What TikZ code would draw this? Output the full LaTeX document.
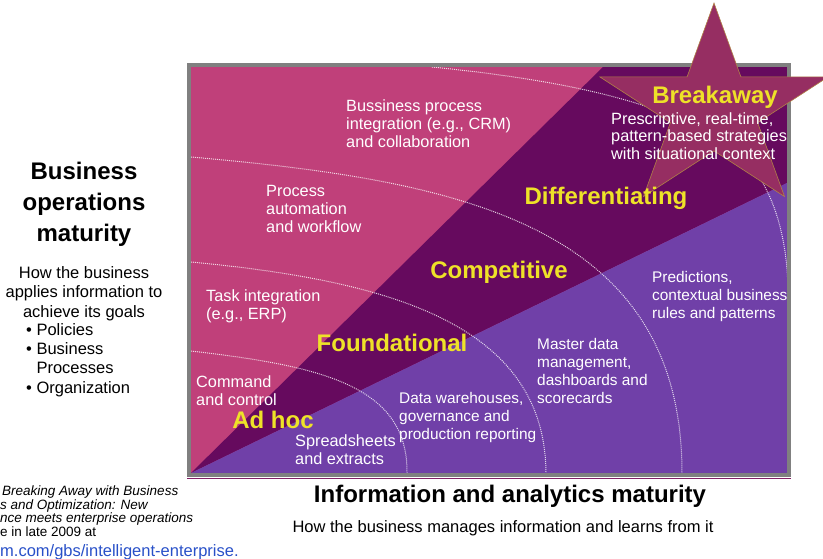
\documentclass[tikz,border=0pt]{standalone}
\usepackage{fontspec}
\setmainfont{Liberation Sans}
\usepackage{xcolor}
\definecolor{opspink}{RGB}{192,64,122}
\definecolor{bandplum}{RGB}{102,10,94}
\definecolor{infoviolet}{RGB}{112,64,168}
\definecolor{starplum}{RGB}{150,46,98}
\definecolor{staredge}{RGB}{176,130,70}
\definecolor{stagegold}{RGB}{238,226,40}
\definecolor{framegray}{RGB}{128,128,128}
\definecolor{frameplum}{RGB}{130,30,100}
\definecolor{linkblue}{RGB}{40,80,200}

\begin{document}
\begin{tikzpicture}[x=1pt,y=-1pt,
    stage/.style={text=stagegold,font=\fontsize{24}{24}\selectfont\bfseries,inner sep=0pt,text height=17pt,text depth=0pt},
    note/.style={text=white,font=\fontsize{16.3}{18}\selectfont,align=left,anchor=north west,inner sep=0pt},
    smallnote/.style={note,font=\fontsize{15.4}{17.8}\selectfont},
    trail/.style={white,opacity=0.8,line width=1pt,dash pattern=on 1pt off 1pt}]
    \useasboundingbox (0,0) rectangle (823,559);

    \coordinate (sw) at (191,473);
    \coordinate (se) at (787,473);
    \coordinate (ne) at (787,67);
    \coordinate (topcut) at (603,67);
    \coordinate (rightcut) at (787,183);

    \fill[opspink] (sw) rectangle (ne);
    \fill[bandplum] (sw) -- (topcut) -- (ne) -- (rightcut) -- cycle;
    \fill[infoviolet] (sw) -- (rightcut) -- (se) -- cycle;

    \draw[trail] (191,351) .. controls (320,366) and (408,385) .. (407,473);
    \draw[trail] (191,262) .. controls (380,280) and (545,320) .. (546,473);
    \draw[trail] (191,157) .. controls (450,180) and (682,220) .. (682,473);
    \draw[trail] (432,67) .. controls (560,80) and (660,100) .. (730,145) .. controls (770,175) and (787,230) .. (788,290);

    \draw[framegray, line width=4pt] (189,65) rectangle (789,475);
    \draw[frameplum, line width=1.5pt] (187,478.5) -- (791,478.5);

    \filldraw[fill=starplum, draw=staredge, line width=0.6pt] (714,3)
        \foreach \i in {1,...,9}{ -- ({714+120*(1-0.618*mod(\i,2))*cos(90+36*\i)}, {110-107*(1-0.618*mod(\i,2))*sin(90+36*\i)}) } -- cycle;

    \node[note] (bpi) at (346,99) {Bussiness process\\integration (e.g., CRM)\\and collaboration};
    \node[note] (paw) at (266,185) {Process\\automation\\and workflow};
    \node[note] (erp) at (206,289) {Task integration\\(e.g., ERP)};
    \node[note] (cmd) at (196,375) {Command\\and control};
    \node[note] (sheets) at (295,434) {Spreadsheets\\and extracts};
    \node[smallnote] (dwh) at (399,392.5) {Data warehouses,\\governance and\\production reporting};
    \node[smallnote] (mdm) at (537,338.5) {Master data\\management,\\dashboards and\\scorecards};
    \node[smallnote] (pred) at (652,271.5) {Predictions,\\contextual business\\rules and patterns};
    \node[note,font=\fontsize{16.3}{17.5}\selectfont] (presc) at (611,112) {Prescriptive, real-time,\\pattern-based strategies\\with situational context};

    \node[stage] (adhoc) at (273,420) {Ad hoc};
    \node[stage] (found) at (392,343) {Foundational};
    \node[stage] (comp) at (499,270) {Competitive};
    \node[stage] (diff) at (606,196) {Differentiating};
    \node[stage] (brk) at (715,95) {Breakaway};

    \node[align=center, anchor=north, inner sep=0pt, font=\fontsize{24}{31}\selectfont\bfseries] (opstitle) at (84,161.5) {Business\\operations\\maturity};
    \node[align=center, anchor=north, inner sep=0pt, font=\fontsize{16.5}{19.5}\selectfont] (opsdesc) at (84,266) {How the business\\applies information to\\achieve its goals};
    \node[align=left, anchor=north west, inner sep=0pt, font=\fontsize{16.5}{19.4}\selectfont] (opslist) at (26,323) {•\ Policies\\•\ Business\\\hphantom{•\ }Processes\\•\ Organization};

    \node[anchor=base, inner sep=0pt, font=\fontsize{24}{24}\selectfont\bfseries] (infotitle) at (510,502.6) {Information and analytics maturity};
    \node[anchor=base, inner sep=0pt, font=\fontsize{16.5}{18}\selectfont] (infodesc) at (503,532) {How the business manages information and learns from it};

    \node[align=left, anchor=north west, inner sep=0pt, font=\fontsize{13.5}{13.4}\selectfont\itshape] (cite) at (0,486) {\hspace*{2pt}Breaking Away with Business\\s and Optimization: New\\nce meets enterprise operations\\{\upshape e in late 2009 at}};
    \node[anchor=north west, inner sep=0pt, text=linkblue, font=\fontsize{16.5}{18}\selectfont] (link) at (0,544) {\underline{m.com/gbs/intelligent-enterprise.}};
\end{tikzpicture}
\end{document}
